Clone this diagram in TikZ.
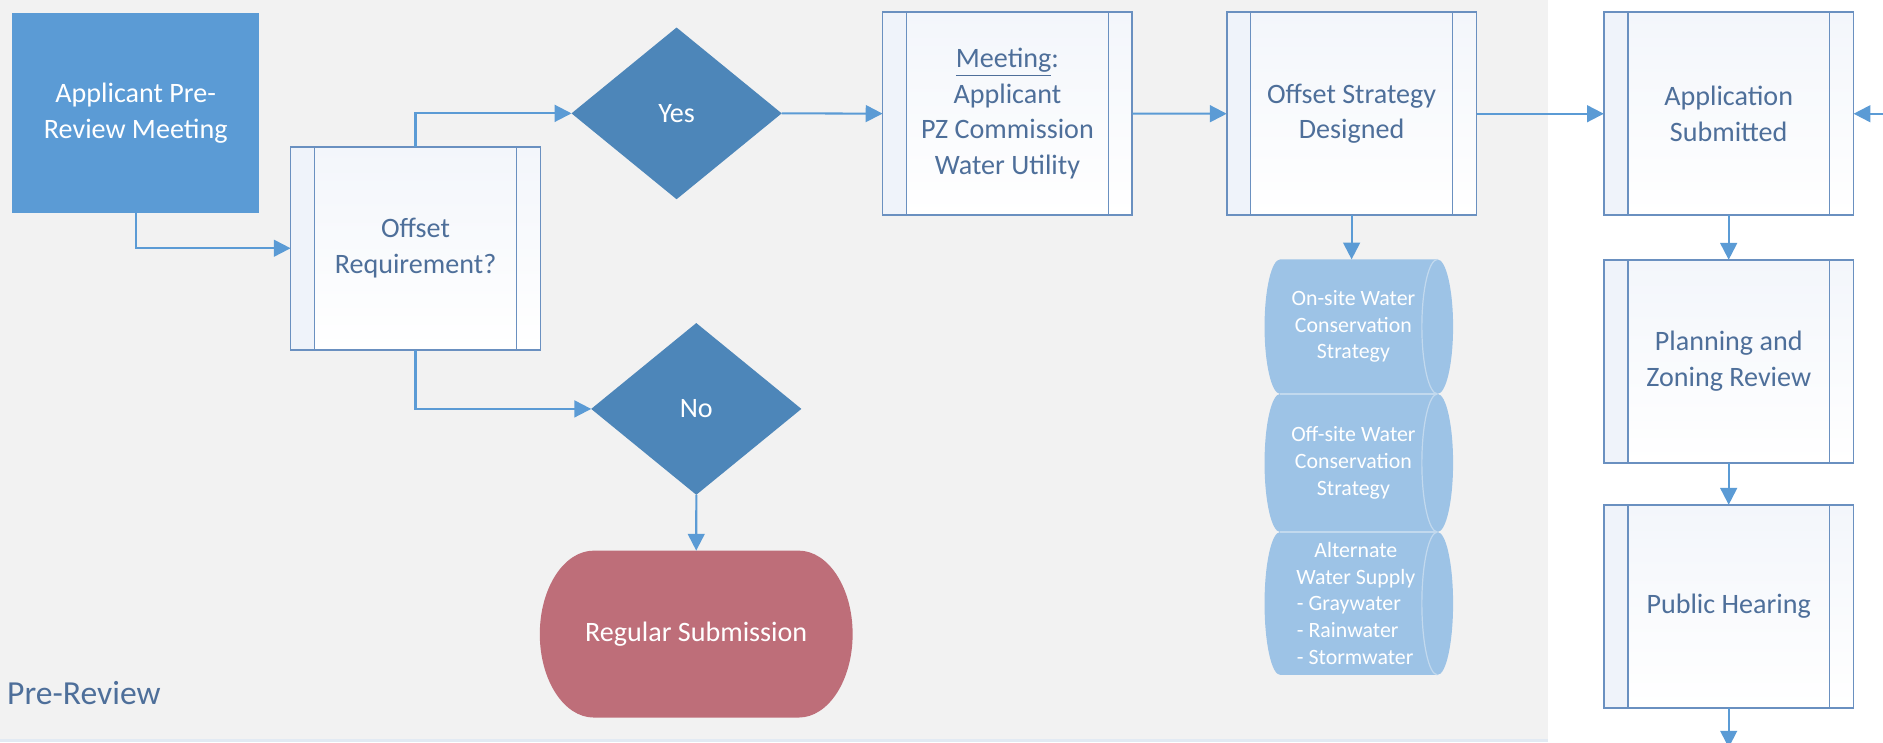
\documentclass[tikz,border=0pt]{standalone}
\usepackage{fontspec}
\setmainfont{Carlito}
\usetikzlibrary{shapes.geometric,arrows.meta,calc}
\definecolor{bggray}{HTML}{F2F2F2}
\definecolor{arrowblue}{HTML}{5B9BD5}
\definecolor{appblue}{HTML}{5B9BD5}
\definecolor{diablue}{HTML}{4D86B9}
\definecolor{procline}{HTML}{6A90C0}
\definecolor{proctext}{HTML}{4E6F9A}
\definecolor{regred}{HTML}{BE6E79}
\definecolor{stackblue}{HTML}{9DC3E6}
\definecolor{stackline}{HTML}{C2D9EE}
\definecolor{stripe}{HTML}{EFF3FA}
\definecolor{shadetop}{HTML}{F3F6FB}
\definecolor{lanebottom}{HTML}{E2EAF3}
\begin{document}
\begin{tikzpicture}[x=0.5pt,y=-0.5pt,
  every node/.style={font=\fontsize{11.7}{14.8}\selectfont, align=center, inner sep=0pt, outer sep=0pt},
  proc/.style={rectangle, draw=procline, line width=0.7pt,
    minimum width=104pt, minimum height=84.5pt, text=proctext,
    top color=shadetop, bottom color=white,
    path picture={
      \fill[stripe] (path picture bounding box.north west) rectangle ([xshift=10pt]path picture bounding box.south west);
      \draw[procline, line width=0.6pt] ([xshift=10pt]path picture bounding box.north west) -- ([xshift=10pt]path picture bounding box.south west);
      \draw[procline, line width=0.6pt] ([xshift=-10pt]path picture bounding box.north east) -- ([xshift=-10pt]path picture bounding box.south east);
    }},
  startbox/.style={rectangle, fill=appblue, text=white, minimum width=103pt, minimum height=83.5pt},
  dia/.style={diamond, fill=diablue, text=white, minimum width=87.5pt, minimum height=71.5pt},
  arr/.style={draw=arrowblue, line width=0.85pt, -{Triangle[length=7pt,width=7pt]}},
  stacktext/.style={text=white, font=\fontsize{9.1}{11.1}\selectfont, minimum height=56pt},
  stackfill/.style={fill=stackblue},
  stackedge/.style={draw=stackline, line width=0.5pt},
]
\useasboundingbox (0,0) rectangle (1568,618);
% swimlane backgrounds
\fill[white] (0,0) rectangle (1568,618);
\fill[bggray] (0,0) rectangle (1289,616);
\draw[lanebottom, line width=1pt] (0,616.5) -- (1289,616.5);

% nodes
\node[startbox] (app) at (113,94.1) {Applicant Pre-\\Review Meeting};
\node[proc] (offreq) at (346,206.7) {Offset\\Requirement?};
\node[dia] (yes) at (563.4,94.4) {Yes};
\node[dia] (no) at (579.8,340.5) {No};
\node[proc] (meet) at (838.9,94.6) {\underline{Meeting}:\\Applicant\\PZ Commission\\Water Utility};
\node[proc] (osd) at (1125.5,94.7) {Offset Strategy\\Designed};
\node[proc] (appsub) at (1439.5,94.7) {Application\\Submitted};
\node[proc] (plan) at (1439.5,300.8) {Planning and\\Zoning Review};
\node[proc] (pub) at (1439.5,504.8) {Public Hearing};

% Regular submission terminator
\fill[regred] (494.5,458.5) -- (665,458.5)
  arc[start angle=-90,end angle=90,x radius=45,y radius=69.5]
  -- (494.5,597.5)
  arc[start angle=90,end angle=270,x radius=45,y radius=69.5] -- cycle;
\node[rectangle, text=white, minimum width=130.3pt, minimum height=69.5pt] (reg) at (579.75,528) {Regular Submission};

% strategy stack
\foreach \t/\b in {216/328, 328/443, 443/562}{
  \pgfmathsetmacro{\ry}{(\b-\t)/2}
  \fill[stackfill] (1066,\t) -- (1197,\t)
    arc[start angle=-90,end angle=90,x radius=13,y radius=\ry]
    -- (1066,\b)
    arc[start angle=90,end angle=270,x radius=13,y radius=\ry] -- cycle;
  \draw[stackedge] (1197,\t) arc[start angle=-90,end angle=-270,x radius=13,y radius=\ry];
}
\draw[stackedge] (1066,328) -- (1197,328);
\draw[stackedge] (1066,443) -- (1197,443);
\node[stacktext] (s1) at (1127,272) {On-site Water\\Conservation\\Strategy};
\node[stacktext] (s2) at (1127,385.5) {Off-site Water\\Conservation\\Strategy};
\node[stacktext] (s3) at (1129,502.5) {Alternate\\Water Supply\\\hbox to 49pt{- Graywater\hfil}\\\hbox to 49pt{- Rainwater\hfil}\\\hbox to 49pt{- Stormwater\hfil}};

% lane label
\node[anchor=west, text=proctext, font=\fontsize{14}{16}\selectfont] (lane) at (6,577) {Pre-Review};

% free ends
\coordinate (inR) at (1575,94.7);
\coordinate (outB) at (1439.5,622.5);

% connectors
\draw[arr] (app.south) |- (offreq.west);
\draw[arr] (offreq.north) |- (yes.west);
\draw[arr] (offreq.south) |- (no.west);
\draw[arr] (yes.east) -- (meet.west);
\draw[arr] (no.south) -- (reg.north);
\draw[arr] (meet.east) -- (osd.west);
\draw[arr] (osd.east) -- (appsub.west);
\draw[arr] (osd.south) -- (osd.south |- s1.north);
\draw[arr] (appsub.south) -- (plan.north);
\draw[arr] (plan.south) -- (pub.north);
\draw[arr] (pub.south) -- (outB);
\draw[arr] (inR) -- (appsub.east);
\end{tikzpicture}
\end{document}
